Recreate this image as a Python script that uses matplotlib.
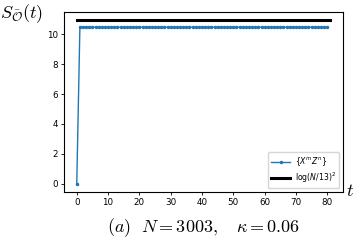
import numpy as np
import matplotlib
matplotlib.use("Agg")
import matplotlib.pyplot as plt

# ==========================================================
# DADOS
# ==========================================================

t_blue = list(range(0, 81))
s_blue = [0.0] + [10.48] * 80

t_black = [0, 81]
s_black = [10.95, 10.95]

x_ticks = [0, 10, 20, 30, 40, 50, 60, 70, 80]
y_ticks = [0, 2, 4, 6, 8, 10]

# ==========================================================
# FIGURA
# ==========================================================

fig = plt.figure(figsize=(3.6, 2.48), dpi=100)
ax = fig.add_axes([0.178, 0.226, 0.775, 0.726])

ax.plot(t_blue, s_blue, color="#1f77b4", marker="o", markersize=1.5,
        linewidth=1.0, label=r"$\{X^mZ^n\}$")
ax.plot(t_black, s_black, color="black", linewidth=2.2,
        label=r"$\log(N/13)^2$")

ax.set_xlim(-4.05, 85.05)
ax.set_ylim(-0.55, 11.5)
ax.set_xticks(x_ticks)
ax.set_yticks(y_ticks)
ax.tick_params(labelsize=6.3, length=2.5, width=0.6, pad=2)
for s in ax.spines.values():
    s.set_linewidth(0.8)

ax.legend(loc="lower right", fontsize=5.6, handlelength=2.5,
          borderpad=0.4, labelspacing=0.3, handletextpad=0.6,
          borderaxespad=0.5, framealpha=0.8)

fig.text(0.0, 0.99, r"$S_{\bar{\mathcal{O}}}(t)$", fontsize=13,
         ha="left", va="top", math_fontfamily="cm")
fig.text(0.962, 0.23, r"$t$", fontsize=13, ha="left", va="center",
         math_fontfamily="cm")
fig.text(0.565, 0.081, r"$(a)\ \ N=3003,\ \ \ \kappa=0.06$", fontsize=13,
         ha="center", va="center", math_fontfamily="cm")

fig.savefig("out.png", dpi=100)
